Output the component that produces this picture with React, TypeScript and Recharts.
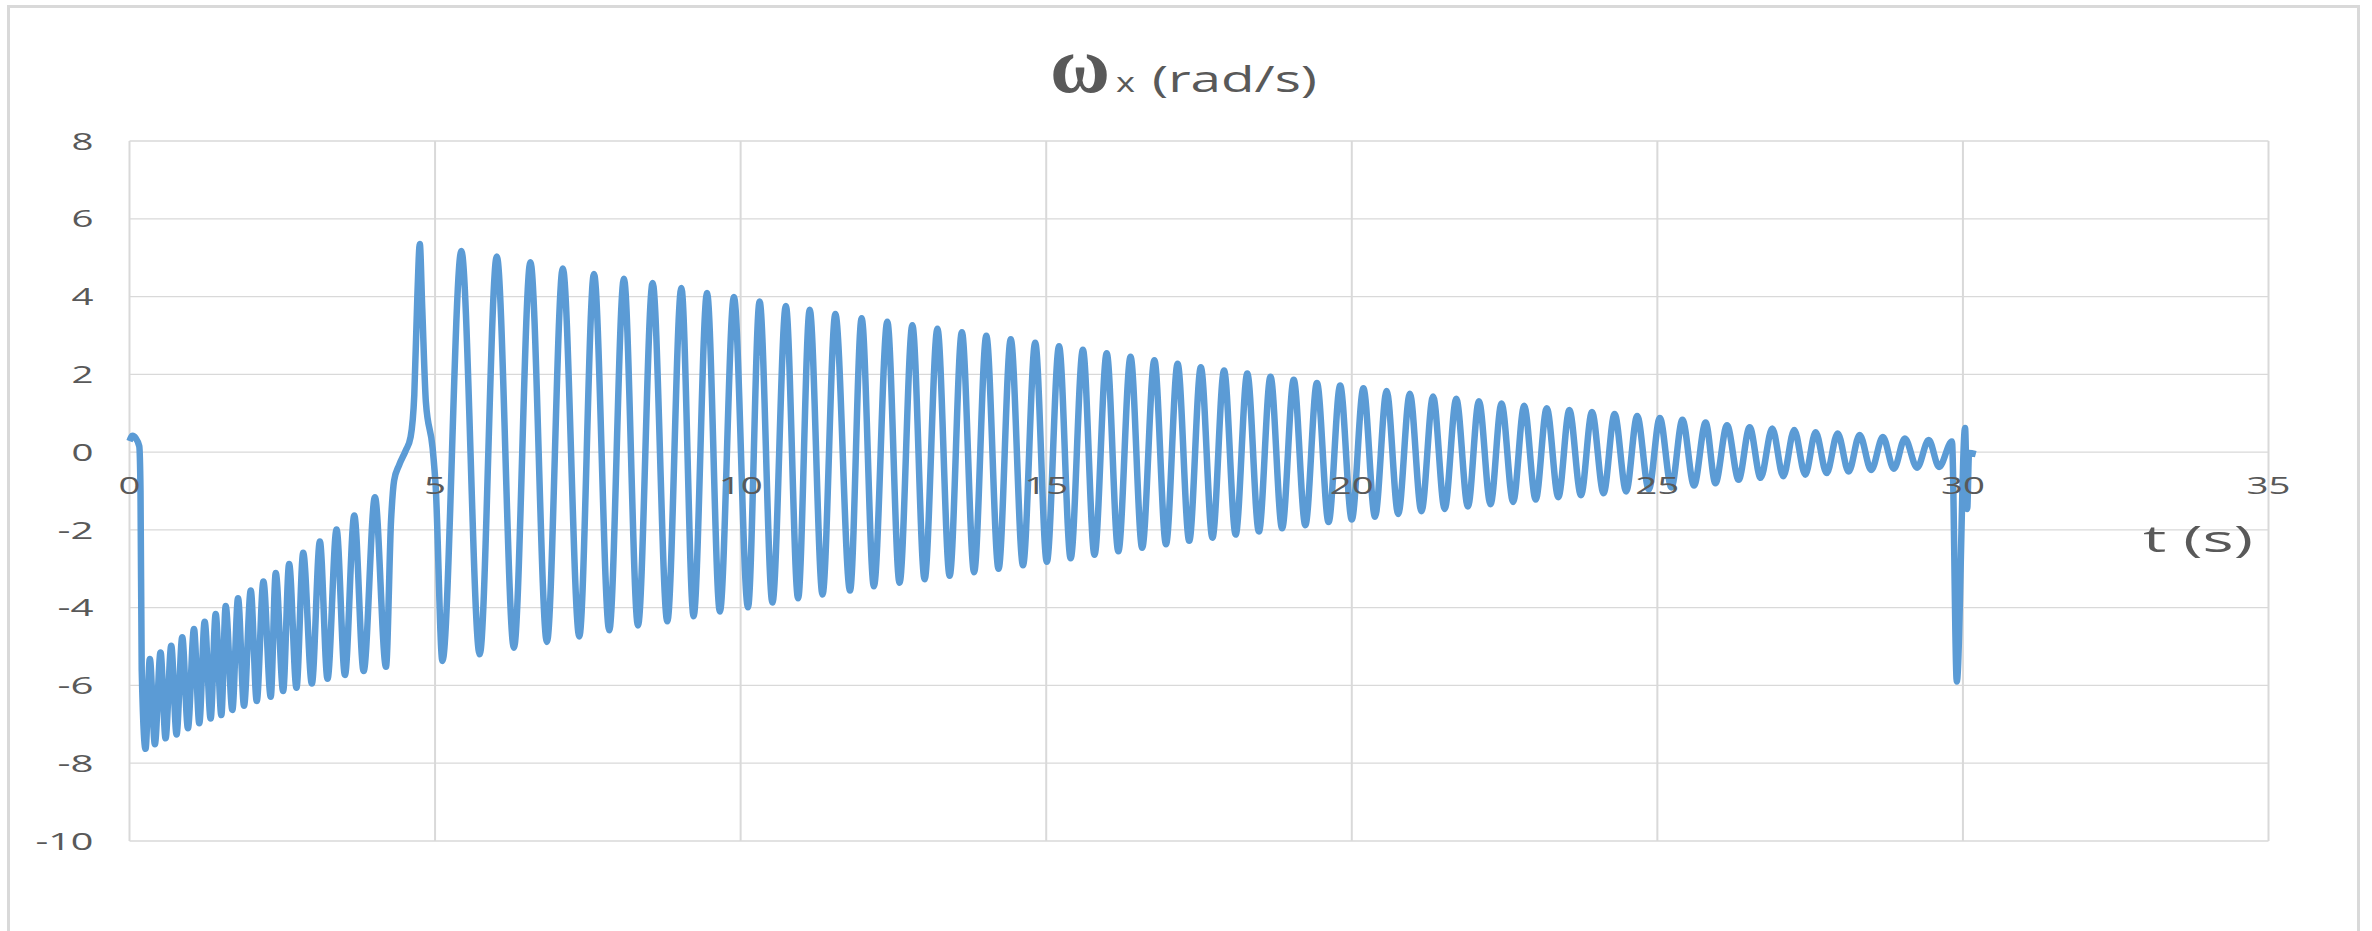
import { LineChart, Line, XAxis, YAxis, CartesianGrid } from 'recharts';

const WIDTH = 2372;
const HEIGHT = 931;
const PLOT = { left: 129.5, right: 2268.5, top: 141, bottom: 841 };

const X_TICKS = [0, 5, 10, 15, 20, 25, 30, 35];
const Y_TICKS = [-10, -8, -6, -4, -2, 0, 2, 4, 6, 8];
const Y_MIN = -10;
const Y_MAX = 8;

// release and first drop
const startT = [0, 0.05, 0.1, 0.16, 0.18, 0.2];
const startW = [0.28, 0.42, 0.36, 0.15, -1.0, -5.6];

// fast oscillation below zero (troughs and peaks alternate)
const fastT = [
  0.262, 0.333, 0.415, 0.508, 0.59, 0.683, 0.77, 0.863, 0.956, 1.055, 1.142, 1.23, 1.328,
  1.41, 1.503, 1.574, 1.683, 1.776, 1.874, 1.984, 2.082, 2.191, 2.311, 2.393, 2.514, 2.612,
  2.732, 2.842, 2.984, 3.115, 3.24, 3.388, 3.525, 3.678, 3.831, 4.016, 4.197,
];
const fastW = [
  -7.63, -5.32, -7.51, -5.15, -7.36, -4.98, -7.26, -4.76, -7.1, -4.55, -6.97, -4.36, -6.85,
  -4.16, -6.76, -3.96, -6.63, -3.76, -6.52, -3.56, -6.4, -3.33, -6.29, -3.11, -6.14, -2.88,
  -6.06, -2.59, -5.95, -2.3, -5.83, -1.99, -5.73, -1.63, -5.63, -1.16, -5.52,
];

// climb through zero into the first big swing
const jumpT = [4.28, 4.33, 4.41, 4.52, 4.6, 4.66, 4.71, 4.75, 4.79, 4.85, 4.96, 5.01];
const jumpW = [-1.75, -0.73, -0.34, 0.04, 0.39, 1.47, 4.0, 5.35, 3.7, 1.28, 0.1, -0.88];

// decaying oscillation: peaks
const peakT = [
  5.43, 6.01, 6.56, 7.09, 7.6, 8.09, 8.56, 9.03, 9.45, 9.89, 10.31, 10.74, 11.13, 11.55, 11.98,
  12.4, 12.81, 13.22, 13.62, 14.02, 14.42, 14.82, 15.21, 15.6, 15.99, 16.38, 16.77, 17.15,
  17.53, 17.91, 18.29, 18.67, 19.05, 19.43, 19.81, 20.19, 20.57, 20.95, 21.33, 21.71, 22.08,
  22.45, 22.82, 23.19, 23.56, 23.93, 24.3, 24.67, 25.04, 25.41, 25.79, 26.14, 26.51, 26.88,
  27.24, 27.59, 27.95, 28.31, 28.69, 29.05, 29.44, 29.82,
];
const peakW = [
  5.17, 5.03, 4.88, 4.72, 4.58, 4.46, 4.35, 4.22, 4.09, 3.99, 3.87, 3.76, 3.66, 3.55, 3.44,
  3.35, 3.26, 3.17, 3.08, 2.99, 2.9, 2.81, 2.72, 2.63, 2.54, 2.45, 2.36, 2.27,
  2.18, 2.1, 2.02, 1.94, 1.86, 1.78, 1.71, 1.64, 1.57, 1.5, 1.43, 1.37, 1.31,
  1.25, 1.19, 1.13, 1.08, 1.03, 0.98, 0.93, 0.88, 0.83, 0.76, 0.69, 0.64, 0.61,
  0.57, 0.51, 0.48, 0.44, 0.39, 0.35, 0.31, 0.27,
];

// decaying oscillation: troughs
const troughT = [
  5.12, 5.73, 6.29, 6.83, 7.36, 7.85, 8.32, 8.8, 9.23, 9.66, 10.12, 10.52, 10.94, 11.34, 11.79,
  12.18, 12.6, 13.01, 13.42, 13.82, 14.22, 14.62, 15.01, 15.4, 15.79, 16.18, 16.57, 16.96,
  17.34, 17.72, 18.1, 18.48, 18.86, 19.24, 19.62, 20.0, 20.38, 20.76, 21.14, 21.52, 21.9,
  22.27, 22.64, 23.01, 23.38, 23.75, 24.12, 24.49, 24.86, 25.23, 25.6, 25.95, 26.33, 26.69,
  27.06, 27.42, 27.77, 28.13, 28.5, 28.87, 29.25, 29.61,
];
const troughW = [
  -5.37, -5.2, -5.03, -4.88, -4.74, -4.58, -4.46, -4.35, -4.22, -4.1, -3.99, -3.87, -3.76,
  -3.66, -3.56, -3.45, -3.36, -3.27, -3.18, -3.09, -3.0, -2.91, -2.82, -2.73, -2.64, -2.55,
  -2.46, -2.37, -2.28, -2.2, -2.12, -2.04, -1.96, -1.88, -1.8, -1.73, -1.66, -1.59, -1.52,
  -1.46, -1.4, -1.34, -1.28, -1.22, -1.16, -1.11, -1.06, -1.01, -0.96, -0.91, -0.86, -0.8,
  -0.71, -0.66, -0.62, -0.58, -0.54, -0.5, -0.46, -0.43, -0.4, -0.38,
];

// impact spike at the end of the run
const endT = [29.9, 30.035, 30.07, 30.1, 30.21];
const endW = [-5.9, 0.62, -1.46, -0.02, -0.05];

const zip = (ts: number[], ws: number[]) => ts.map((t, i) => ({ t, w: ws[i] }));

const data = [
  ...zip(startT, startW),
  ...zip(fastT, fastW),
  ...zip(jumpT, jumpW),
  ...zip(peakT, peakW),
  ...zip(troughT, troughW),
  ...zip(endT, endW),
].sort((a, b) => a.t - b.t);

const INK = '#595959';
const FONT = '"Open Sans", sans-serif';
const GRID = '#d9d9d9';

// labels in the source are wide, so each one is given an explicit length
const charWidth = (c: string) => (c === '-' ? 14 : 22);
const labelWidth = (s: string) => [...s].reduce((sum, c) => sum + charWidth(c), 0);

const yZero = PLOT.top + ((Y_MAX - 0) / (Y_MAX - Y_MIN)) * (PLOT.bottom - PLOT.top);

function YTick({ y, payload }: any) {
  const s = String(payload.value);
  return (
    <text
      x={PLOT.left - 36}
      y={y}
      dy="0.36em"
      textAnchor="end"
      fontSize={24}
      fontFamily={FONT}
      fill={INK}
      textLength={labelWidth(s)}
      lengthAdjust="spacingAndGlyphs"
    >
      {s}
    </text>
  );
}

// the category labels sit just under the zero line, not under the plot
function XTick({ x, payload }: any) {
  const s = String(payload.value);
  return (
    <text
      x={x}
      y={yZero + 33.5}
      dy="0.36em"
      textAnchor="middle"
      fontSize={23}
      fontFamily={FONT}
      fill={INK}
      textLength={labelWidth(s)}
      lengthAdjust="spacingAndGlyphs"
    >
      {s}
    </text>
  );
}

export default function App() {
  return (
    <div
      style={{
        position: 'absolute',
        left: 0,
        top: 0,
        width: WIDTH,
        height: HEIGHT,
        overflow: 'hidden',
        background: '#fff',
      }}
    >
      <div
        style={{
          position: 'absolute',
          left: 7,
          top: 5,
          width: 2353,
          height: 1000,
          border: '3px solid #d9d9d9',
          boxSizing: 'border-box',
        }}
      />
      <LineChart
        width={WIDTH}
        height={HEIGHT}
        data={data}
        margin={{ top: PLOT.top, right: WIDTH - PLOT.right, bottom: HEIGHT - PLOT.bottom - 30, left: PLOT.left - 100 }}
        style={{ position: 'absolute', left: 0, top: 0 }}
      >
        <CartesianGrid vertical={false} stroke={GRID} strokeWidth={1.3} />
        <CartesianGrid horizontal={false} stroke={GRID} strokeWidth={2} />
        <XAxis
          type="number"
          dataKey="t"
          domain={[0, 35]}
          ticks={X_TICKS}
          interval={0}
          height={30}
          axisLine={false}
          tickLine={false}
          tick={<XTick />}
        />
        <YAxis
          type="number"
          domain={[Y_MIN, Y_MAX]}
          ticks={Y_TICKS}
          interval={0}
          width={100}
          axisLine={false}
          tickLine={false}
          tick={<YTick />}
        />
        <Line
          type="monotone"
          dataKey="w"
          stroke="#5b9bd5"
          strokeWidth={6.5}
          strokeLinejoin="round"
          dot={false}
          isAnimationActive={false}
        />
      </LineChart>
      <svg
        width={WIDTH}
        height={HEIGHT}
        style={{ position: 'absolute', left: 0, top: 0, pointerEvents: 'none' }}
      >
        <text x={1050} y={92} fontFamily='"Liberation Serif", serif' fontWeight="bold" fontSize={80} fill={INK} textLength={60} lengthAdjust="spacingAndGlyphs">
          ω
        </text>
        <text x={1116} y={92} fontFamily={FONT} fontSize={27} fill={INK} textLength={19} lengthAdjust="spacingAndGlyphs">
          x
        </text>
        <text x={1152} y={92} fontFamily={FONT} fontSize={36} fill={INK} textLength={165} lengthAdjust="spacingAndGlyphs">
          (rad/s)
        </text>
        <text x={2143} y={552} fontFamily={FONT} fontSize={36} fill={INK} textLength={110} lengthAdjust="spacingAndGlyphs">
          t (s)
        </text>
      </svg>
    </div>
  );
}
